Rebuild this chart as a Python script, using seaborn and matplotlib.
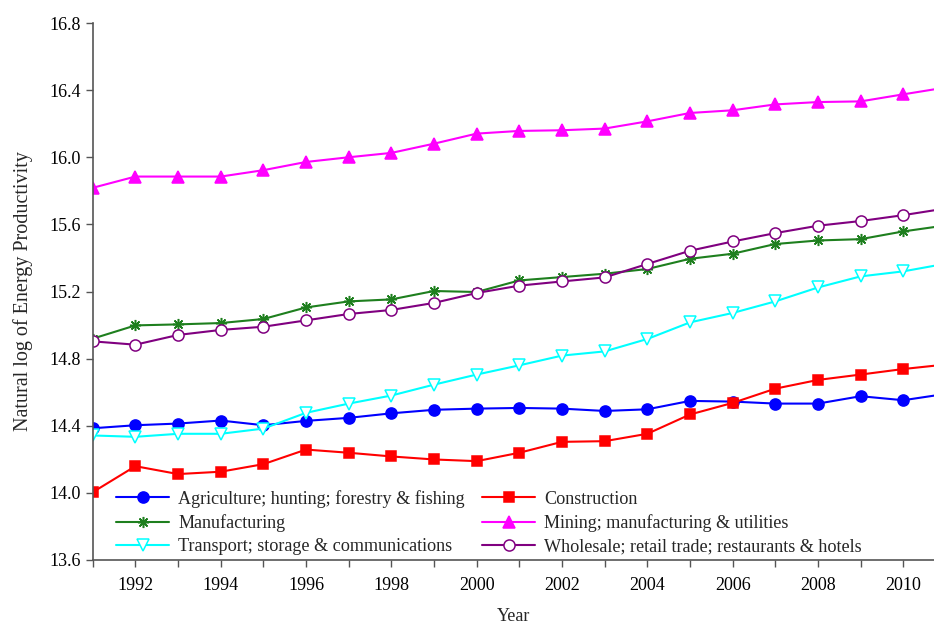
import numpy as np
import pandas as pd
import seaborn as sns
import matplotlib
matplotlib.use("Agg")
from matplotlib import pyplot as plt

years = list(range(1991, 2012))

agriculture = [14.385, 14.403, 14.413, 14.431, 14.403, 14.429, 14.447, 14.474, 14.495, 14.502,
               14.506, 14.502, 14.488, 14.498, 14.548, 14.544, 14.532, 14.532, 14.576, 14.552, 14.59]
construction = [14.004, 14.159, 14.112, 14.126, 14.171, 14.258, 14.239, 14.217, 14.199, 14.189,
                14.239, 14.304, 14.308, 14.352, 14.467, 14.536, 14.621, 14.673, 14.705, 14.738, 14.765]
manufacturing = [14.919, 14.998, 15.004, 15.012, 15.036, 15.105, 15.141, 15.153, 15.203, 15.197,
                 15.266, 15.286, 15.306, 15.334, 15.395, 15.425, 15.483, 15.504, 15.512, 15.558, 15.594]
mining = [15.818, 15.885, 15.885, 15.885, 15.923, 15.972, 16.0, 16.026, 16.081, 16.141,
          16.157, 16.161, 16.171, 16.214, 16.264, 16.28, 16.315, 16.329, 16.333, 16.375, 16.416]
transport = [14.342, 14.334, 14.352, 14.352, 14.383, 14.477, 14.532, 14.58, 14.645, 14.705,
             14.76, 14.818, 14.843, 14.917, 15.016, 15.072, 15.141, 15.224, 15.29, 15.32, 15.366]
wholesale = [14.903, 14.883, 14.941, 14.971, 14.99, 15.028, 15.066, 15.09, 15.132, 15.191,
             15.235, 15.26, 15.284, 15.364, 15.443, 15.498, 15.548, 15.592, 15.62, 15.655, 15.695]

sectors = ["Agriculture; hunting; forestry & fishing", "Construction", "Manufacturing",
           "Mining; manufacturing & utilities", "Transport; storage & communications",
           "Wholesale; retail trade; restaurants & hotels"]
series = [agriculture, construction, manufacturing, mining, transport, wholesale]

df = pd.DataFrame({
    "Year": years * len(sectors),
    "value": sum(series, []),
    "sector": np.repeat(sectors, len(years)),
})

# style per sector: colour, marker, face colour
styles = {
    sectors[0]: ("#0000FF", "o", "#0000FF"),
    sectors[1]: ("#FF0000", "s", "#FF0000"),
    sectors[2]: ("#1E7F1E", (8, 2, 0), "#1E7F1E"),
    sectors[3]: ("#FF00FF", "^", "#FF00FF"),
    sectors[4]: ("#00FFFF", "v", "white"),
    sectors[5]: ("#800080", "o", "white"),
}

sns.set_style("ticks")
plt.rcParams['font.family'] = ['Liberation Serif', 'DejaVu Serif']

fig = plt.figure(figsize=(9.34, 6.24), dpi=100)
ax = fig.add_axes([0.0993, 0.1026, 0.9007, 0.8605])

for s in sectors:
    col, mk, fc = styles[s]
    sns.lineplot(data=df[df.sector == s], x="Year", y="value", ax=ax,
                 color=col, marker=mk, markersize=8 if mk != "s" else 7,
                 markerfacecolor=fc, markeredgecolor=col, markeredgewidth=1.1,
                 linewidth=1.5, label=s, clip_on=True)

ax.set_xlim(1991, 2010.72)
ax.set_ylim(13.6, 16.8)
ax.set_yticks(np.arange(13.6, 16.81, 0.4))
ax.set_yticklabels([f"{v:.1f}" for v in np.arange(13.6, 16.81, 0.4)])
ax.set_xticks(range(1991, 2011))
ax.set_xticklabels([str(y) if y % 2 == 0 else "" for y in range(1991, 2011)])
ax.tick_params(labelsize=13, colors="#555555", labelcolor="black", length=5, width=1)
ax.tick_params(axis="x", pad=7)
for sp in ["top", "right"]:
    ax.spines[sp].set_visible(False)
for sp in ["left", "bottom"]:
    ax.spines[sp].set_color("#555555")
    ax.spines[sp].set_linewidth(1.2)

ax.set_xlabel("Year", fontsize=13, labelpad=10)
ax.set_ylabel("Natural log of Energy Productivity", fontsize=14.5, labelpad=12)

h, l = ax.get_legend_handles_labels()
order = [0, 2, 4, 1, 3, 5]
ax.legend([h[i] for i in order], [l[i] for i in order], ncol=2, frameon=False,
          loc="lower left", bbox_to_anchor=(0.013, -0.015), fontsize=13.1,
          handlelength=2.9, handletextpad=0.5, columnspacing=0.95, labelspacing=0.35,
          borderaxespad=0.3)

fig.savefig("out.png", dpi=100)
